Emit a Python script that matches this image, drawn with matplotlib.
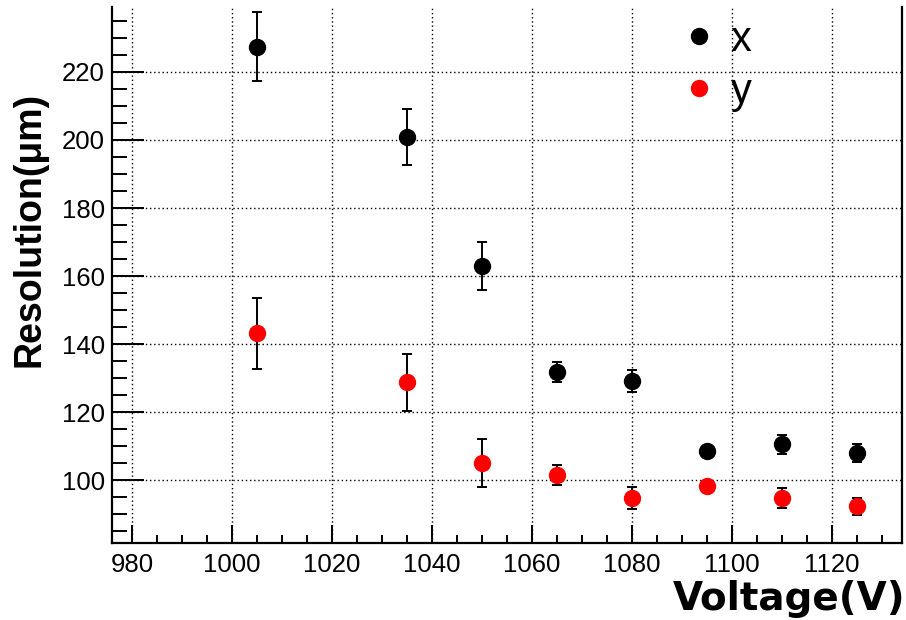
import matplotlib.pyplot as plt
from matplotlib.lines import Line2D
from matplotlib.ticker import MultipleLocator

# data
voltage = [1005, 1035, 1050, 1065, 1080, 1095, 1110, 1125]
res_x = [227.4, 200.9, 163.0, 131.7, 129.1, 108.5, 110.5, 107.9]
err_x = [10.2, 8.2, 7.0, 3.0, 3.2, 1.0, 2.9, 2.6]
res_y = [143.1, 128.7, 105.0, 101.5, 94.8, 98.3, 94.8, 92.3]
err_y = [10.3, 8.3, 7.0, 3.0, 3.2, 1.0, 3.0, 2.5]
series_names = ['x', 'y']
series_colors = ['black', 'red']

fig = plt.figure(figsize=(9.06, 6.2), dpi=100)
ax = fig.add_axes([0.1236, 0.1242, 0.872, 0.8645])

ax.errorbar(voltage, res_x, yerr=err_x, fmt='o', color=series_colors[0], ecolor='black',
            markersize=11.5, elinewidth=1.4, capsize=3.5, capthick=1.4, zorder=3)
ax.errorbar(voltage, res_y, yerr=err_y, fmt='o', color=series_colors[1], ecolor='black',
            markersize=11.5, elinewidth=1.4, capsize=3.5, capthick=1.4, zorder=3)

ax.set_xlim(976, 1134)
ax.set_ylim(81.5, 239.1)
ax.xaxis.set_major_locator(MultipleLocator(20))
ax.xaxis.set_minor_locator(MultipleLocator(5))
ax.yaxis.set_major_locator(MultipleLocator(20))
ax.yaxis.set_minor_locator(MultipleLocator(5))

ax.grid(True, which='major', linestyle=(0, (1, 2)), color='black', linewidth=1.0)
ax.tick_params(axis='x', which='major', direction='in', length=13, width=1.4, pad=7,
               labelsize=18.5, top=False)
ax.tick_params(axis='x', which='minor', direction='in', length=6, width=1.4, top=False)
ax.tick_params(axis='y', which='major', direction='in', length=23, width=1.4, pad=5,
               labelsize=18.5, right=False)
ax.tick_params(axis='y', which='minor', direction='in', length=11, width=1.4, right=False)
for lab in ax.get_xticklabels() + ax.get_yticklabels():
    lab.set_fontfamily('Liberation Sans')

ax.spines['top'].set_visible(False)
for s in ['left', 'bottom', 'right']:
    ax.spines[s].set_linewidth(1.6)

fig.text(0.033, 0.63, 'Resolution(μm)', rotation=90, fontsize=27, fontweight='bold',
         family='Liberation Sans', ha='center', va='center')
fig.text(0.999, 0.034, 'Voltage(V)', fontsize=28, fontweight='bold',
         family='DejaVu Sans', ha='right', va='center')

handles = [Line2D([], [], marker='o', linestyle='', color=c, markersize=11.5)
           for c in series_colors]
leg = ax.legend(handles, series_names, loc='upper left', bbox_to_anchor=(0.68, 1.046),
                frameon=False, fontsize=30, handlelength=0.6, handletextpad=0.45,
                labelspacing=0.29)
for t in leg.get_texts():
    t.set_fontfamily('Liberation Sans')

fig.savefig('out.png', dpi=100)
